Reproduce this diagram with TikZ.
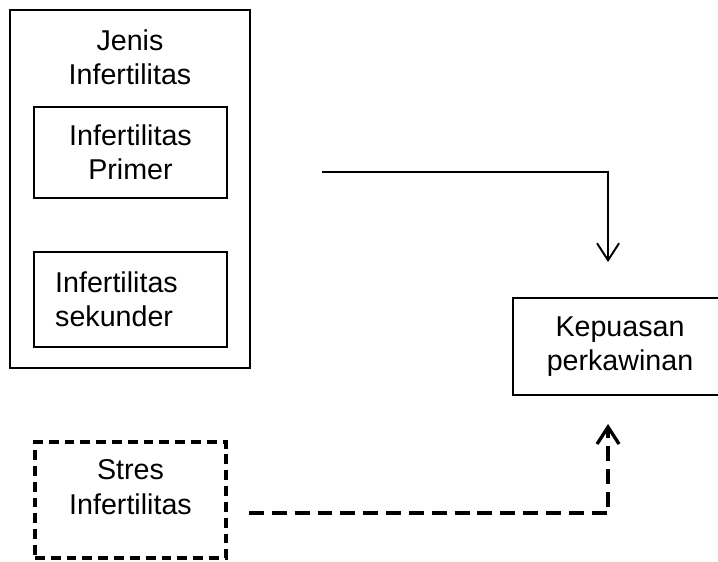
\documentclass[tikz,border=0pt]{standalone}
\usepackage{fontspec}
\setmainfont{Liberation Sans}
\usepackage{tikz}
\usetikzlibrary{arrows,positioning}
\usetikzlibrary{calc}
\usetikzlibrary{arrows.meta}

\begin{document}
\begin{tikzpicture}[node distance=1cm, auto]

\tikzstyle{txt} = [align=center, font=\fontsize{16.3}{19.6}\selectfont, inner sep=0pt]
\tikzstyle{box} = [rectangle, minimum width=3.86cm, minimum height=1.82cm, text centered, draw=black, line width=1.1pt, txt]
\tikzstyle{bigbox} = [rectangle, minimum width=4.8cm, minimum height=7.16cm, draw=black, line width=1.1pt]
\tikzstyle{dashbox} = [rectangle, minimum width=3.82cm, minimum height=2.32cm, draw=black, line width=2pt, dash pattern=on 5.6pt off 3.4pt]
\tikzstyle{arrow} = [line width=1.1pt, -{Straight Barb[length=0.34cm, width=0.44cm]}]
\tikzstyle{dasharrow} = [arrow, line width=1.9pt, dash pattern=on 8.5pt off 4.5pt]

\useasboundingbox (0,0) rectangle (14.36,-11.24);

\node (jenis) [bigbox] at (2.6,-3.78) {};
\node (jenistxt) [txt] at ([yshift=-0.97cm]jenis.north) {Jenis\\Infertilitas};
\node (primer) [box] at (2.61,-3.05) {Infertilitas\\Primer};
\node (sekunder) [box, below=1.04cm of primer, minimum height=1.9cm] {};
\node (sekundertxt) [txt, align=left] at ([xshift=-0.28cm]sekunder.center) {Infertilitas\\sekunder};
\node (kepuasan) [box, minimum width=4.28cm, minimum height=1.94cm] at (12.4,-6.93) {Kepuasan\\perkawinan};
\node (stres) [dashbox] at (2.61,-10.0) {};
\node (strestxt) [txt] at ([yshift=0.26cm]stres.center) {Stres\\Infertilitas};

\coordinate (jenisout) at (6.44,-3.44);
\coordinate (kepuasanin) at ($(kepuasan.north west)+(1.92,0.7)$);
\coordinate (stresout) at (4.98,-10.26);
\coordinate (kepuasanin2) at ($(kepuasan.south west)+(1.92,-0.56)$);

\draw [arrow] (jenisout) -| (kepuasanin);
\draw [dasharrow] (stresout) -| (kepuasanin2);
\end{tikzpicture}
\end{document}
